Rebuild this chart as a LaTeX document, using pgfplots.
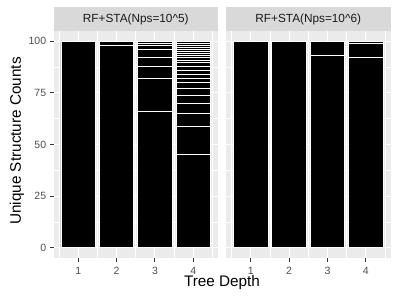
\documentclass[border=0pt]{standalone}
\usepackage{pgfplots}
\usepackage{pgfplotstable}
\pgfplotsset{compat=1.18}
\usepackage{fontspec}
\setmainfont{Liberation Sans}
\definecolor{bg}{HTML}{EBEBEB}
\definecolor{stripc}{HTML}{D9D9D9}
\definecolor{striptext}{HTML}{1A1A1A}
\definecolor{ticklab}{HTML}{4D4D4D}
\definecolor{tickc}{HTML}{333333}
\pgfplotstableread{
depth s1 s2 s3 s4 s5 s6 s7 s8 s9 s10 s11 s12 s13 s14 s15 s16 s17 s18 s19 s20 s21 s22
1 100 0 0 0 0 0 0 0 0 0 0 0 0 0 0 0 0 0 0 0 0 0
2 98 2 0 0 0 0 0 0 0 0 0 0 0 0 0 0 0 0 0 0 0 0
3 66 16 6 4 4 2 1 1 0 0 0 0 0 0 0 0 0 0 0 0 0 0
4 45 14 6 5 4 3 3 2 2 2 2 2 1 1 1 1 1 1 1 1 1 1
}\tabA
\pgfplotstableread{
depth s1 s2 s3
1 100 0 0
2 100 0 0
3 93 7 0
4 92 7 1
}\tabB
\pgfplotsset{
  panel/.style={
    scale only axis, width=164.5pt, height=227pt,
    xmin=0.355, xmax=4.645, ymin=-5, ymax=105,
    enlargelimits=false,
    axis background/.style={fill=bg},
    axis line style={draw=none},
    grid=both,
    major grid style={white, line width=1.1pt},
    minor grid style={white, line width=0.55pt},
    xtick={1,2,3,4}, minor xtick={0.5,1.5,2.5,3.5,4.5},
    ytick={0,25,50,75,100}, minor ytick={12.5,37.5,62.5,87.5},
    tick align=outside, tick pos=left,
    major tick length=3.8pt, minor tick length=0pt,
    major tick style={color=tickc, line width=1pt},
    /pgf/number format/assume math mode=true,
    ticklabel style={font=\fontsize{10.5}{12}\selectfont, text=ticklab},
    xticklabel style={yshift=-1.5pt},
    ybar stacked, bar width=0.9,
  },
  seg/.style={fill=black, draw=white, line width=0.7pt},
}
\begin{document}
\begin{tikzpicture}
\useasboundingbox (0pt,0pt) rectangle (400pt,300pt);
\begin{axis}[panel, at={(53.5pt,42pt)}, anchor=south west]
\pgfplotsinvokeforeach{1,...,22}{
  \addplot[seg] table[x=depth, y=s#1]{\tabA};
}
\end{axis}
\begin{axis}[panel, at={(226pt,42pt)}, anchor=south west, yticklabels={}, ymajorticks=false]
\pgfplotsinvokeforeach{1,...,3}{
  \addplot[seg] table[x=depth, y=s#1]{\tabB};
}
\end{axis}
\fill[stripc] (53.5pt,269pt) rectangle (218pt,292.7pt);
\fill[stripc] (226pt,269pt) rectangle (390.5pt,292.7pt);
\node[text=striptext, font=\fontsize{11.8}{14}\selectfont] at (135.75pt,280.8pt) {RF+STA(Nps=10\^{}5)};
\node[text=striptext, font=\fontsize{11.8}{14}\selectfont] at (308.25pt,280.8pt) {RF+STA(Nps=10\^{}6)};
\node[anchor=base, font=\fontsize{15.3}{18}\selectfont] at (222pt,13pt) {Tree Depth};
\node[rotate=90, font=\fontsize{15.3}{18}\selectfont] at (17pt,159pt) {Unique Structure Counts};
\end{tikzpicture}
\end{document}
